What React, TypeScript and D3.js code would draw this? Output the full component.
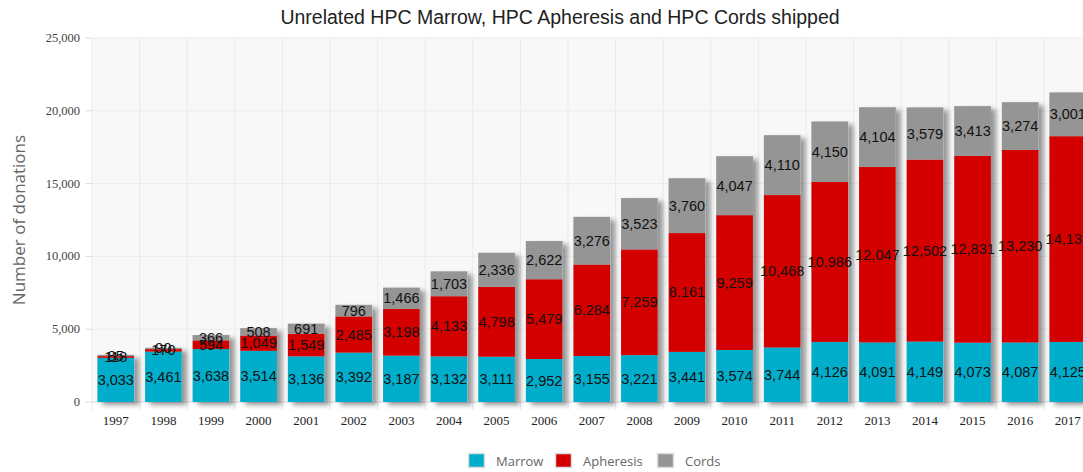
import React from "react";
import * as d3 from "d3";

const years = ["1997","1998","1999","2000","2001","2002","2003","2004","2005","2006","2007","2008","2009","2010","2011","2012","2013","2014","2015","2016","2017"];
const marrow = [3033,3461,3638,3514,3136,3392,3187,3132,3111,2952,3155,3221,3441,3574,3744,4126,4091,4149,4073,4087,4125];
const apheresis = [118,170,594,1049,1549,2485,3198,4133,4798,5479,6284,7259,8161,9259,10468,10986,12047,12502,12831,13230,14132];
const cords = [85,90,366,508,691,796,1466,1703,2336,2622,3276,3523,3760,4047,4110,4150,4104,3579,3413,3274,3001];
const yTicks = [0,5000,10000,15000,20000,25000];
const seriesNames = ["Marrow","Apheresis","Cords"];
const seriesColors = ["#00AECB","#D40000","#959595"];

export default function App() {
  const W = 1083, H = 472;
  const left = 92, top = 38, bottom = 402;
  const x = d3.scaleBand<string>().domain(years).range([left, left + 47.6 * years.length]).paddingInner(0.23).paddingOuter(0.115);
  const y = d3.scaleLinear().domain([0, 25000]).range([bottom, top]);
  const fmt = d3.format(",");
  const rows = years.map((yr, i) => ({ year: yr, Marrow: marrow[i], Apheresis: apheresis[i], Cords: cords[i] }));
  const stack = d3.stack<any>().keys(seriesNames)(rows);
  const step = x.step();
  const bounds = years.map((_, i) => left + i * step);
  const plotRight = left + step * years.length;
  const legendX = [468, 555, 657];
  return (
    <svg width={W} height={H} style={{ position: "absolute", left: 0, top: 0, background: "#fff" }}>
      <defs>
        <filter id="sh" x="-20%" y="-10%" width="160%" height="130%">
          <feDropShadow dx="5" dy="3" stdDeviation="2.5" floodColor="#000" floodOpacity="0.4" />
        </filter>
      </defs>
      <text x={560} y={24} textAnchor="middle" fontFamily="Liberation Sans, Arial, sans-serif" fontSize={19.5} fill="#222">
        Unrelated HPC Marrow, HPC Apheresis and HPC Cords shipped
      </text>
      <rect x={left} y={top} width={plotRight - left} height={bottom - top} fill="#F8F8F8" />
      {yTicks.map(t => (
        <line key={"h" + t} x1={left} x2={plotRight} y1={y(t)} y2={y(t)} stroke="#EAEAEA" strokeWidth={1} />
      ))}
      {bounds.map((b, i) => (
        <line key={"v" + i} x1={b} x2={b} y1={top} y2={bottom + 8} stroke="#EAEAEA" strokeWidth={1} />
      ))}
      <line x1={left} x2={plotRight} y1={bottom} y2={bottom} stroke="#E0E0E0" />
      {yTicks.map(t => (
        <g key={"yt" + t}>
          <line x1={85} x2={left} y1={y(t)} y2={y(t)} stroke="#DDD" />
          <text x={80} y={y(t) + 4} textAnchor="end" fontFamily="Liberation Serif, Times New Roman, serif" fontSize={12.5} fill="#444">{fmt(t)}</text>
        </g>
      ))}
      <text transform={`translate(25,${(top + bottom) / 2}) rotate(-90)`} textAnchor="middle" fontFamily="Open Sans, sans-serif" fontSize={17} fill="#666">Number of donations</text>
      {years.map(yr => (
        <text key={"xl" + yr} x={x(yr)! + x.bandwidth() / 2} y={425} textAnchor="middle" fontFamily="Liberation Serif, Times New Roman, serif" fontSize={13} fill="#222">{yr}</text>
      ))}
      <g filter="url(#sh)">
        {rows.map((r, i) => (
          <rect key={"s" + i} x={x(r.year)} y={y(stack[2][i][1])} width={x.bandwidth()} height={y(0) - y(stack[2][i][1])} fill="#ccc" />
        ))}
      </g>
      {stack.map((s, si) => (
        <g key={"g" + si}>
          {s.map((d, i) => (
            <rect key={i} x={x(years[i])} y={y(d[1])} width={x.bandwidth()} height={y(d[0]) - y(d[1])} fill={seriesColors[si]} />
          ))}
        </g>
      ))}
      {stack.map((s, si) => (
        <g key={"l" + si}>
          {s.map((d, i) => (
            <text key={i} x={x(years[i])! + x.bandwidth() / 2} y={(y(d[0]) + y(d[1])) / 2 + 5} textAnchor="middle" fontFamily="Liberation Sans, Arial, sans-serif" fontSize={14.5} fill="#111">{fmt(d[1] - d[0])}</text>
          ))}
        </g>
      ))}
      {seriesNames.map((n, i) => (
        <g key={"lg" + n}>
          <rect x={legendX[i] + 0.5} y={453.5} width={16} height={14} fill={seriesColors[i]} stroke="#DDD" strokeWidth={1.5} />
          <text x={legendX[i] + 28} y={466} fontFamily="Open Sans, sans-serif" fontSize={13} fill="#666">{n}</text>
        </g>
      ))}
    </svg>
  );
}
